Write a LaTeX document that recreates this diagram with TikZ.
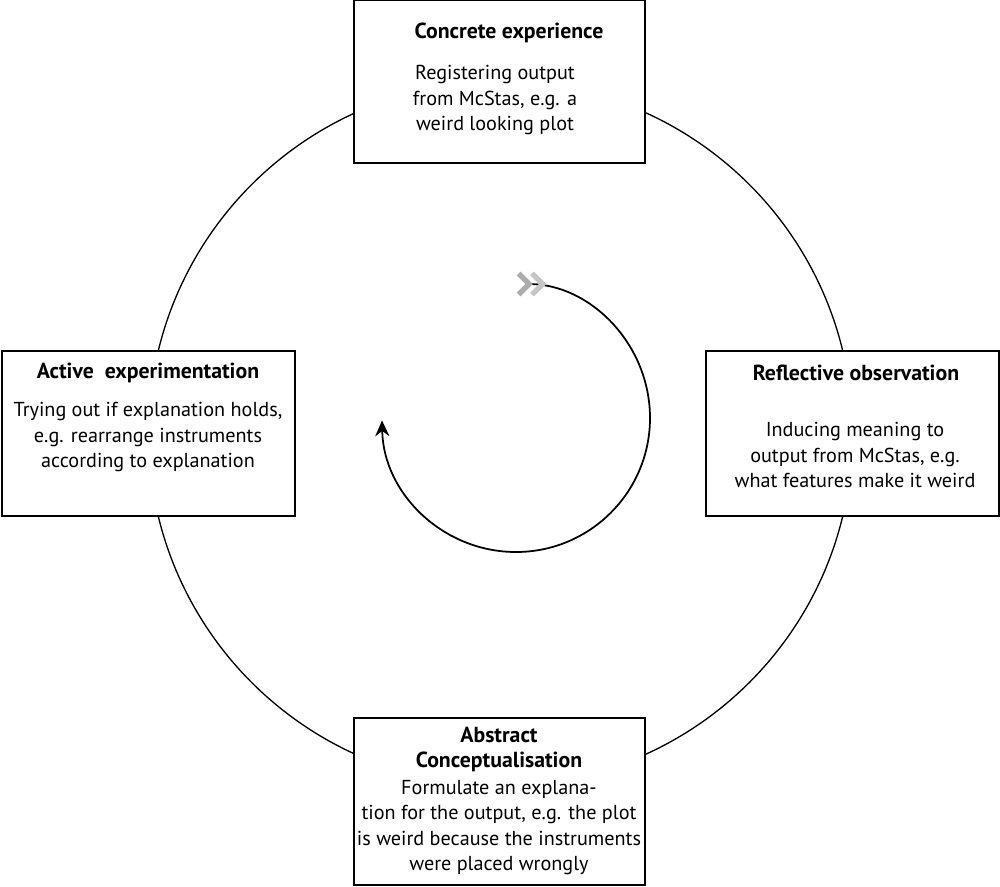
\documentclass[tikz,border=0pt]{standalone}
\usepackage{fontspec}
\setmainfont{PT Sans}
\usetikzlibrary{arrows.meta}
\tikzset{
    stagebox/.style={draw=black,line width=1.1pt,fill=white,inner sep=0pt},
    stagetitle/.style={font=\fontsize{12.4}{14}\selectfont\bfseries,align=center},
    stagetext/.style={font=\fontsize{11.5}{14.5}\selectfont,align=center}
}
\begin{document}
\begin{tikzpicture}[x=0.02cm,y=-0.02cm]
                \useasboundingbox (0,0) rectangle (1000,886);
                \draw[line width=0.75pt] (500.5,433.5) circle[radius=352];
                % the four stages
                \node[stagebox,minimum width=291*0.02cm,minimum height=163*0.02cm] (concrete) at (499.5,81.5) {};
                \node[stagebox,minimum width=293*0.02cm,minimum height=165*0.02cm] (active) at (148.5,433.5) {};
                \node[stagebox,minimum width=293*0.02cm,minimum height=165*0.02cm] (reflective) at (852.5,433.5) {};
                \node[stagebox,minimum width=291*0.02cm,minimum height=167*0.02cm] (abstract) at (499.5,801.5) {};
                \node[stagetitle] (concretetitle) at (509,33) {Concrete experience};
                \node[stagetext] (concretetext) at (495,100) {Registering output\\ from McStas, e.g. a\\weird looking plot};
                \node[stagetitle] (activetitle) at (148,373) {Active\ \ experimentation};
                \node[stagetext] (activetext) at (148,437) {Trying out if explanation holds,\\e.g. rearrange instruments\\according to explanation};
                \node[stagetitle] (reflectivetitle) at (856,373) {Reflective observation};
                \node[stagetext] (reflectivetext) at (855,455) {Inducing meaning to\\output from McStas, e.g.\\what features make it weird};
                \node[stagetitle] (abstracttitle) at (499,749.5) {Abstract\\Conceptualisation};
                \node[stagetext] (abstracttext) at (499,827.5) {Formulate an explana-\\ tion for the output, e.g. the plot\\is weird because the instruments\\were placed wrongly};
                % cycle arrow
                \coordinate (tail) at (516,284);
                \draw[line width=1pt,{Straight Barb[gray!65,reversed,length=6pt,width=12pt,line width=3pt]Straight Barb[gray!45,reversed,length=6pt,width=12pt,line width=3pt,sep=-2pt]}-{Stealth[length=9pt,width=8pt]}]
                    (tail) arc[start angle=-90,end angle=179,radius=134];
            \end{tikzpicture}
\end{document}
